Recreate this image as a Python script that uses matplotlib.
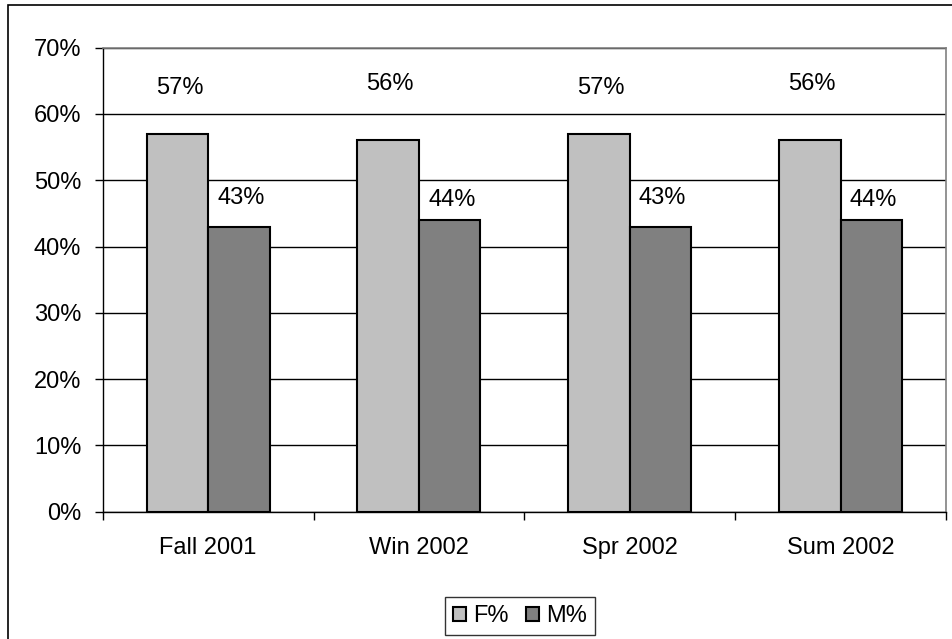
import matplotlib
matplotlib.use("Agg")
import matplotlib.pyplot as plt
import numpy as np
from matplotlib.patches import Rectangle
from matplotlib.ticker import FixedLocator, PercentFormatter

plt.rcParams["font.family"] = ["Liberation Sans", "DejaVu Sans"]

# Dados
categorias = ["Fall 2001", "Win 2002", "Spr 2002", "Sum 2002"]
f_pct = [57, 56, 57, 56]
m_pct = [43, 44, 43, 44]

# Altura dos rótulos (em % do eixo), como no original
f_label_y = [63.9, 64.5, 63.9, 64.5]
m_label_y = [47.3, 47.0, 47.3, 47.0]

FS = 17
W, H = 953, 639
fig = plt.figure(figsize=(W / 100, H / 100), dpi=100)
ax = fig.add_axes([102.7 / W, 1 - 511.7 / H, (946 - 102.7) / W, (511.7 - 47.7) / H])

x = np.arange(len(categorias))
bw = 0.292
ax.bar(x - bw / 2, f_pct, bw, color="#C0C0C0", edgecolor="black", linewidth=1.5, label="F%", zorder=3)
ax.bar(x + bw / 2, m_pct, bw, color="#808080", edgecolor="black", linewidth=1.5, label="M%", zorder=3)

# Rótulos dos valores
for i in range(len(categorias)):
    ax.text(x[i] - bw / 2 + 0.01, f_label_y[i], f"{f_pct[i]}%", ha="center", va="center", fontsize=FS)
    ax.text(x[i] + bw / 2 + 0.01, m_label_y[i], f"{m_pct[i]}%", ha="center", va="center", fontsize=FS)

# Eixos
ax.set_xlim(-0.5, len(categorias) - 0.5)
ax.set_ylim(0, 70)
ax.yaxis.set_major_locator(FixedLocator(np.arange(0, 71, 10)))
ax.yaxis.set_major_formatter(PercentFormatter(decimals=0))
ax.set_xticks(x)
ax.set_xticklabels(categorias)
ax.set_xticks(np.arange(-0.5, len(categorias)), minor=True)
ax.tick_params(axis="x", which="major", length=0, pad=18.5, labelsize=FS)
ax.tick_params(axis="x", which="minor", length=6, width=1, direction="out")
ax.tick_params(axis="y", length=6, width=1, direction="out", pad=9.5, labelsize=FS)

ax.grid(axis="y", color="black", linewidth=1, zorder=0)
ax.set_axisbelow(True)
for s in ["top", "right"]:
    ax.spines[s].set_color("#808080")
    ax.spines[s].set_linewidth(1.2)
for s in ["left", "bottom"]:
    ax.spines[s].set_color("black")
    ax.spines[s].set_linewidth(1)

# Legenda
leg = ax.legend(loc="center", bbox_to_anchor=(520 / W, 1 - 616 / H), bbox_transform=fig.transFigure,
                ncol=2, fontsize=FS, frameon=True, fancybox=False, edgecolor="black",
                handlelength=0.55, handleheight=0.55, handletextpad=0.3, columnspacing=0.7,
                borderpad=0.35, borderaxespad=0)
leg.get_frame().set_linewidth(1)

# Moldura do gráfico
fig.patches.append(Rectangle((8 / W, -0.1), 1.0, 1 - 5 / H + 0.1, transform=fig.transFigure,
                             fill=False, edgecolor="black", linewidth=1.2))

fig.savefig("out.png", dpi=100)
plt.close(fig)
